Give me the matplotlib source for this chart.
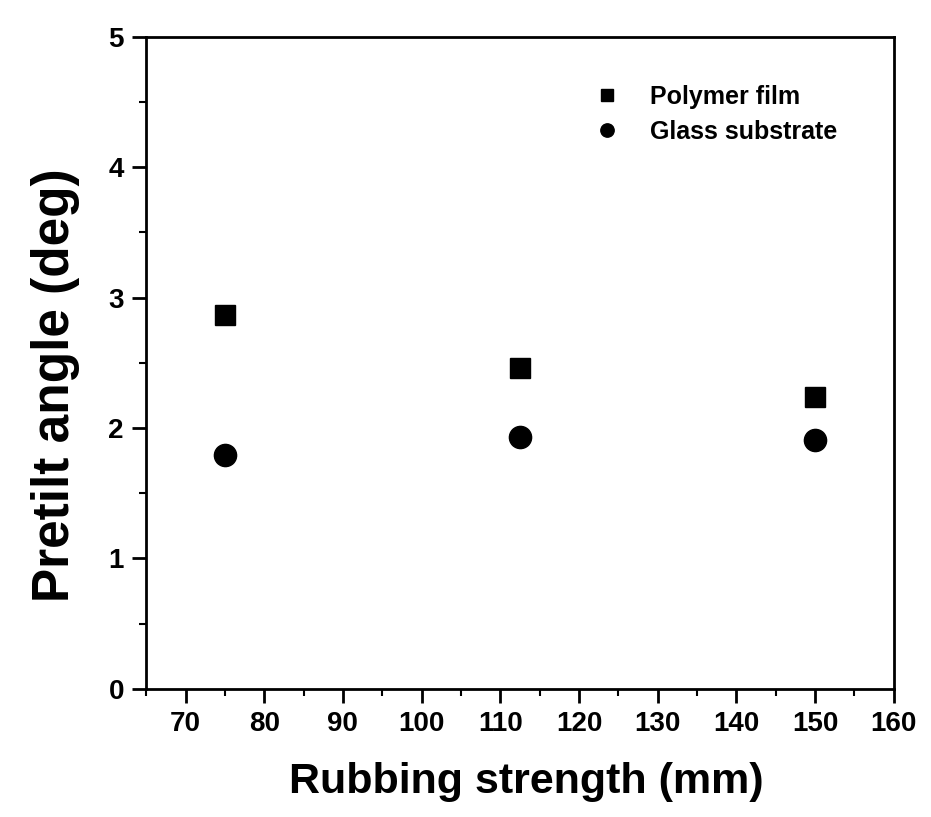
import matplotlib
matplotlib.use("Agg")
import matplotlib.pyplot as plt
from matplotlib.ticker import MultipleLocator

plt.rcParams['font.family'] = ['Liberation Sans', 'DejaVu Sans']
plt.rcParams['font.weight'] = 'bold'

# Data
rubbing = [75, 112.5, 150]
polymer_film = [2.87, 2.46, 2.24]
glass_substrate = [1.79, 1.93, 1.91]

fig = plt.figure(figsize=(9.31, 8.17), dpi=100)
ax = fig.add_axes([0.157, 0.157, 0.803, 0.798])

ax.plot(rubbing, polymer_film, 's', color='black', markersize=15, label='Polymer film')
ax.plot(rubbing, glass_substrate, 'o', color='black', markersize=16, label='Glass substrate')

ax.set_xlim(65, 160)
ax.set_ylim(0, 5)
ax.xaxis.set_major_locator(MultipleLocator(10))
ax.xaxis.set_minor_locator(MultipleLocator(5))
ax.yaxis.set_major_locator(MultipleLocator(1))
ax.yaxis.set_minor_locator(MultipleLocator(0.5))

for side in ax.spines.values():
    side.set_linewidth(2)
ax.tick_params(which='major', direction='out', length=10, width=2, labelsize=20, pad=6)
ax.tick_params(which='minor', direction='out', length=5, width=1.5)
for lbl in ax.get_xticklabels() + ax.get_yticklabels():
    lbl.set_fontweight('bold')

ax.set_xlabel('Rubbing strength (mm)', fontsize=31, fontweight='bold')
ax.xaxis.set_label_coords(0.509, -0.113)
ax.set_ylabel('Pretilt angle (deg)', fontsize=37, fontweight='bold')
ax.yaxis.set_label_coords(-0.088, 0.466)

leg = ax.legend(loc='upper left', bbox_to_anchor=(0.553, 0.961), frameon=False,
                fontsize=18, markerscale=0.6, handletextpad=0.7, labelspacing=0.45,
                numpoints=1)

fig.savefig('out.png', dpi=100)
